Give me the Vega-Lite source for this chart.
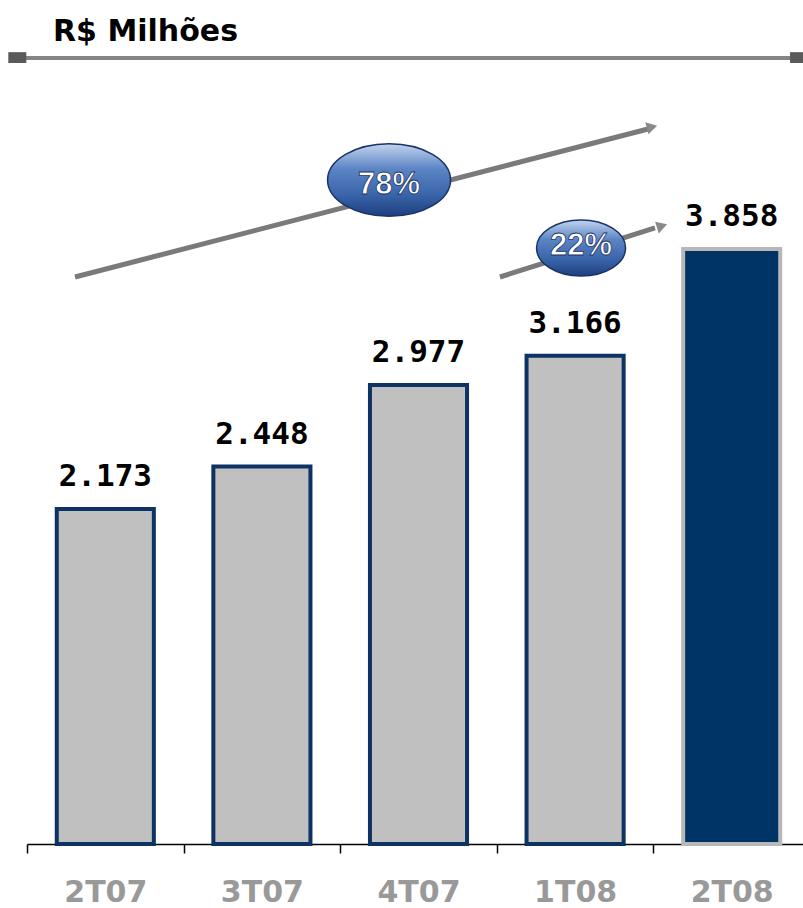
{
  "$schema": "https://vega.github.io/schema/vega-lite/v6.json",
  "width": 783,
  "height": 771,
  "autosize": {"type": "none"},
  "padding": {"left": 27, "top": 73, "right": 0, "bottom": 64},
  "background": "white",
  "config": {"view": {"stroke": null}},
  "title": {
    "text": "R$ Milhões",
    "anchor": "start",
    "frame": "group",
    "font": "DejaVu Sans",
    "fontSize": 30,
    "fontWeight": "bold",
    "color": "#000000",
    "baseline": "alphabetic",
    "offset": -19,
    "dx": 26
  },
  "datasets": {
    "barras": [
      {"trimestre": "2T07", "valor": 2.173, "rotulo": "2.173"},
      {"trimestre": "3T07", "valor": 2.448, "rotulo": "2.448"},
      {"trimestre": "4T07", "valor": 2.977, "rotulo": "2.977"},
      {"trimestre": "1T08", "valor": 3.166, "rotulo": "3.166"},
      {"trimestre": "2T08", "valor": 3.858, "rotulo": "3.858"}
    ],
    "setas": [
      {"seta": "78%", "ordem": 0, "x": 0.3065, "y": 3.677},
      {"seta": "78%", "ordem": 1, "x": 3.966, "y": 4.637},
      {"seta": "22%", "ordem": 0, "x": 3.02, "y": 3.677},
      {"seta": "22%", "ordem": 1, "x": 4.01, "y": 3.995}
    ],
    "pontas": [
      {"seta": "78%", "x": 3.991, "y": 4.65},
      {"seta": "22%", "x": 4.055, "y": 4.008}
    ],
    "bolhas": [
      {"rotulo": "78%", "x": 2.312, "y": 4.306, "ty": 4.218},
      {"rotulo": "22%", "x": 3.538, "y": 3.865, "ty": 3.82}
    ],
    "linha": [
      {"x": -0.109, "x2": 4.936, "y": 5.097}
    ],
    "pontas_linha": [
      {"x": -0.062, "y": 5.1},
      {"x": 4.93, "y": 5.1}
    ]
  },
  "layer": [
    {
      "data": {"name": "barras"},
      "mark": {"type": "bar", "strokeWidth": 4, "strokeJoin": "miter", "width": {"band": 0.62}},
      "encoding": {
        "x": {
          "field": "trimestre",
          "type": "nominal",
          "sort": null,
          "scale": {"paddingInner": 0, "paddingOuter": 0},
          "axis": {
            "title": null,
            "labelAngle": 0,
            "labelFont": "DejaVu Sans",
            "labelFontSize": 30,
            "labelFontWeight": "bold",
            "labelColor": "#999999",
            "labelBaseline": "alphabetic",
            "labelPadding": 48,
            "tickBand": "extent",
            "tickSize": 9,
            "tickColor": "#000000",
            "tickWidth": 1.5,
            "domainColor": "#000000",
            "domainWidth": 1.5,
            "grid": false
          }
        },
        "y": {
          "field": "valor",
          "type": "quantitative",
          "scale": {"domain": [0, 5], "nice": false},
          "axis": null
        },
        "fill": {
          "condition": {"test": "datum.trimestre === '2T08'", "value": "#003366"},
          "value": "#c0c0c0"
        },
        "stroke": {
          "condition": {"test": "datum.trimestre === '2T08'", "value": "#b8b8b8"},
          "value": "#0d3263"
        }
      }
    },
    {
      "data": {"name": "barras"},
      "mark": {
        "type": "text",
        "font": "DejaVu Sans Mono",
        "fontSize": 31,
        "fontWeight": "bold",
        "color": "#000000",
        "baseline": "alphabetic",
        "dy": -23
      },
      "encoding": {
        "x": {"field": "trimestre", "type": "nominal", "sort": null, "scale": {"paddingInner": 0, "paddingOuter": 0}, "axis": null},
        "y": {"field": "valor", "type": "quantitative", "scale": {"domain": [0, 5], "nice": false}, "axis": null},
        "text": {"field": "rotulo"}
      }
    },
    {
      "layer": [
        {
          "data": {"name": "linha"},
          "mark": {"type": "rule", "color": "#858585", "strokeWidth": 4},
          "encoding": {
            "x": {"field": "x", "type": "quantitative", "scale": {"domain": [0, 5], "nice": false, "zero": false}, "axis": null},
            "x2": {"field": "x2"},
            "y": {"field": "y", "type": "quantitative", "scale": {"domain": [0, 5], "nice": false}, "axis": null}
          }
        },
        {
          "data": {"name": "pontas_linha"},
          "mark": {"type": "point", "filled": true, "shape": "M-1,-0.6H1V0.6H-1Z", "size": 324, "color": "#5a5a5a", "opacity": 1},
          "encoding": {
            "x": {"field": "x", "type": "quantitative", "scale": {"domain": [0, 5], "nice": false, "zero": false}, "axis": null},
            "y": {"field": "y", "type": "quantitative", "scale": {"domain": [0, 5], "nice": false}, "axis": null}
          }
        },
        {
          "data": {"name": "setas"},
          "mark": {"type": "line", "color": "#7a7a7a", "strokeWidth": 5, "strokeCap": "butt"},
          "encoding": {
            "x": {"field": "x", "type": "quantitative", "scale": {"domain": [0, 5], "nice": false, "zero": false}, "axis": null},
            "y": {"field": "y", "type": "quantitative", "scale": {"domain": [0, 5], "nice": false}, "axis": null},
            "detail": {"field": "seta"},
            "order": {"field": "ordem"}
          }
        },
        {
          "data": {"name": "pontas"},
          "transform": [{"filter": "datum.seta === '78%'"}],
          "mark": {"type": "point", "filled": true, "shape": "triangle-right", "size": 150, "angle": -14.5, "color": "#8a8a8a", "opacity": 1},
          "encoding": {
            "x": {"field": "x", "type": "quantitative", "scale": {"domain": [0, 5], "nice": false, "zero": false}, "axis": null},
            "y": {"field": "y", "type": "quantitative", "scale": {"domain": [0, 5], "nice": false}, "axis": null}
          }
        },
        {
          "data": {"name": "pontas"},
          "transform": [{"filter": "datum.seta === '22%'"}],
          "mark": {"type": "point", "filled": true, "shape": "triangle-right", "size": 150, "angle": -17.5, "color": "#8a8a8a", "opacity": 1},
          "encoding": {
            "x": {"field": "x", "type": "quantitative", "scale": {"domain": [0, 5], "nice": false, "zero": false}, "axis": null},
            "y": {"field": "y", "type": "quantitative", "scale": {"domain": [0, 5], "nice": false}, "axis": null}
          }
        },
        {
          "data": {"name": "bolhas"},
          "transform": [{"filter": "datum.rotulo === '78%'"}],
          "mark": {
            "type": "point",
            "filled": true,
            "opacity": 1,
            "shape": "M-1,0A1,0.59,0,1,0,1,0A1,0.59,0,1,0,-1,0Z",
            "size": 15129,
            "stroke": "#1a3366",
            "strokeWidth": 1.5,
            "fill": {
              "gradient": "linear", "x1": 0, "y1": 0, "x2": 0, "y2": 1,
              "stops": [
                {"offset": 0, "color": "#c2d4ee"},
                {"offset": 0.35, "color": "#5b84c4"},
                {"offset": 0.7, "color": "#3a65aa"},
                {"offset": 1, "color": "#1e3f7e"}
              ]
            }
          },
          "encoding": {
            "x": {"field": "x", "type": "quantitative", "scale": {"domain": [0, 5], "nice": false, "zero": false}, "axis": null},
            "y": {"field": "y", "type": "quantitative", "scale": {"domain": [0, 5], "nice": false}, "axis": null}
          }
        },
        {
          "data": {"name": "bolhas"},
          "transform": [{"filter": "datum.rotulo === '22%'"}],
          "mark": {
            "type": "point",
            "filled": true,
            "opacity": 1,
            "shape": "M-1,0A1,0.63,0,1,0,1,0A1,0.63,0,1,0,-1,0Z",
            "size": 7921,
            "stroke": "#1a3366",
            "strokeWidth": 1.5,
            "fill": {
              "gradient": "linear", "x1": 0, "y1": 0, "x2": 0, "y2": 1,
              "stops": [
                {"offset": 0, "color": "#c2d4ee"},
                {"offset": 0.35, "color": "#5b84c4"},
                {"offset": 0.7, "color": "#3a65aa"},
                {"offset": 1, "color": "#1e3f7e"}
              ]
            }
          },
          "encoding": {
            "x": {"field": "x", "type": "quantitative", "scale": {"domain": [0, 5], "nice": false, "zero": false}, "axis": null},
            "y": {"field": "y", "type": "quantitative", "scale": {"domain": [0, 5], "nice": false}, "axis": null}
          }
        },
        {
          "data": {"name": "bolhas"},
          "mark": {
            "type": "text",
            "font": "Liberation Sans",
            "fontSize": 31,
            "fontWeight": "bold",
            "color": "#ffffff",
            "stroke": "#1a3366",
            "strokeWidth": 0.8,
            "baseline": "alphabetic",
            "align": "center"
          },
          "encoding": {
            "x": {"field": "x", "type": "quantitative", "scale": {"domain": [0, 5], "nice": false, "zero": false}, "axis": null},
            "y": {"field": "ty", "type": "quantitative", "scale": {"domain": [0, 5], "nice": false}, "axis": null},
            "text": {"field": "rotulo"}
          }
        }
      ]
    }
  ],
  "resolve": {"scale": {"x": "independent"}}
}
